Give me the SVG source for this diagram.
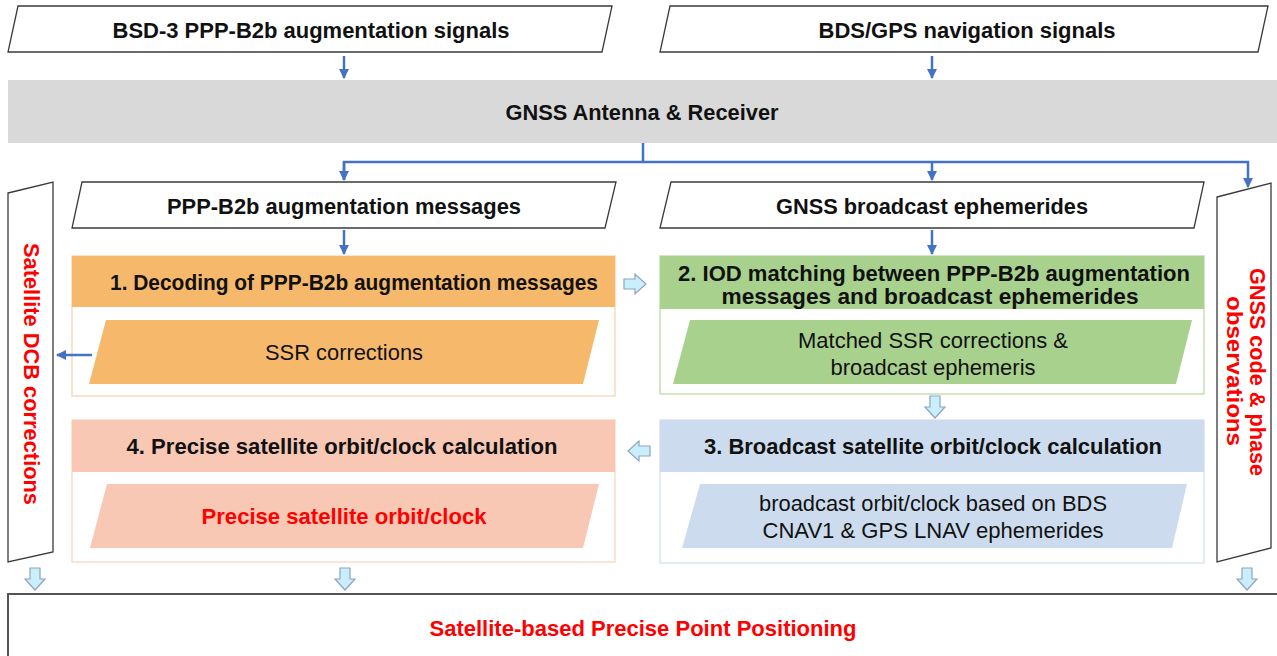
<svg xmlns="http://www.w3.org/2000/svg" width="1277" height="656" viewBox="0 0 1277 656">
  <style>
    .io { fill: #ffffff; stroke: #3a3a3a; stroke-width: 1.3; }
    .hd { font-family: "Liberation Sans", Arial, sans-serif; font-weight: bold; font-size: 22px; fill: #111; text-anchor: middle; dominant-baseline: central; }
    .tx { font-family: "Liberation Sans", Arial, sans-serif; font-size: 22px; fill: #111; text-anchor: middle; dominant-baseline: central; }
    .red { fill: #ff0000; }
    .flow { fill: none; stroke: #4472c4; stroke-width: 2.5; }
    .blk { fill: #c9effc; stroke: #8fa3bf; stroke-width: 1.2; }
  </style>
  <defs>
    <marker id="tip" viewBox="0 0 10 10" refX="9" refY="5" markerWidth="4" markerHeight="4" orient="auto" markerUnits="strokeWidth">
      <path d="M0,0 L10,5 L0,10 Z" fill="#4472c4"/>
    </marker>
    <!-- block arrow pointing down, origin at top centre -->
    <path id="blkDown" class="blk" d="M-5,0 H5 V11 H10 L0,22 L-10,11 H-5 Z"/>
  </defs>

  <rect width="1277" height="656" fill="#ffffff"/>

  <!-- input signals -->
  <g id="b2b-signals">
    <polygon class="io" points="18,6 612,6 602,52 8,52"/>
    <text class="hd" x="311" y="30" textLength="397" lengthAdjust="spacingAndGlyphs">BSD-3 PPP-B2b augmentation signals</text>
  </g>
  <g id="nav-signals">
    <polygon class="io" points="670,6 1268,6 1258,52 660,52"/>
    <text class="hd" x="967" y="30" textLength="297" lengthAdjust="spacingAndGlyphs">BDS/GPS navigation signals</text>
  </g>

  <!-- receiver -->
  <g id="receiver">
    <rect x="8" y="80" width="1269" height="63" fill="#d9d9d9"/>
    <text class="hd" x="642" y="112" textLength="273" lengthAdjust="spacingAndGlyphs">GNSS Antenna &amp; Receiver</text>
  </g>

  <!-- decoded data streams -->
  <g id="b2b-messages">
    <polygon class="io" points="82,182 616,182 605,228 72,228"/>
    <text class="hd" x="344" y="206" textLength="354" lengthAdjust="spacingAndGlyphs">PPP-B2b augmentation messages</text>
  </g>
  <g id="broadcast-ephemerides">
    <polygon class="io" points="671,182 1204,182 1194,228 660,228"/>
    <text class="hd" x="932" y="206" textLength="312" lengthAdjust="spacingAndGlyphs">GNSS broadcast ephemerides</text>
  </g>

  <!-- side streams -->
  <g id="dcb">
    <polygon class="io" points="8,193 53,182 53,552 8,562"/>
    <text class="hd red" transform="translate(31,374) rotate(90)" textLength="262" lengthAdjust="spacingAndGlyphs">Satellite DCB corrections</text>
  </g>
  <g id="observations">
    <polygon class="io" points="1217,197 1271,183 1271,548 1217,562"/>
    <text class="hd red" transform="translate(1257,372) rotate(90)" textLength="208" lengthAdjust="spacingAndGlyphs">GNSS code &amp; phase</text>
    <text class="hd red" transform="translate(1234,371) rotate(90)" textLength="150" lengthAdjust="spacingAndGlyphs">observations</text>
  </g>

  <!-- step 1 -->
  <g id="step1">
    <rect x="72" y="256" width="543" height="140" fill="#ffffff" stroke="#fbd9b8" stroke-width="1.5"/>
    <rect x="72" y="256" width="543" height="51" fill="#f6b96c"/>
    <text class="hd" x="354" y="282" textLength="488" lengthAdjust="spacingAndGlyphs">1. Decoding of PPP-B2b augmentation messages</text>
    <polygon points="106,320 599,320 583,384 89,384" fill="#f6b96c"/>
    <text class="tx" x="344" y="352" textLength="158" lengthAdjust="spacingAndGlyphs">SSR corrections</text>
  </g>

  <!-- step 2 -->
  <g id="step2">
    <rect x="660" y="256" width="544" height="138" fill="#ffffff" stroke="#c5e0b4" stroke-width="1.5"/>
    <rect x="660" y="256" width="544" height="53" fill="#a9d18e"/>
    <text class="hd" x="934" y="273" textLength="512" lengthAdjust="spacingAndGlyphs">2. IOD matching between PPP-B2b augmentation</text>
    <text class="hd" x="930" y="296" textLength="417" lengthAdjust="spacingAndGlyphs">messages and broadcast ephemerides</text>
    <polygon points="690,320 1192,320 1176,384 673,384" fill="#a9d18e"/>
    <text class="tx" x="933" y="340" textLength="270" lengthAdjust="spacingAndGlyphs">Matched SSR corrections &amp;</text>
    <text class="tx" x="933" y="367" textLength="205" lengthAdjust="spacingAndGlyphs">broadcast ephemeris</text>
  </g>

  <!-- step 3 -->
  <g id="step3">
    <rect x="660" y="420" width="544" height="143" fill="#ffffff" stroke="#dae3f3" stroke-width="1.5"/>
    <rect x="660" y="420" width="544" height="52" fill="#ccdcee"/>
    <text class="hd" x="933" y="446" textLength="458" lengthAdjust="spacingAndGlyphs">3. Broadcast satellite orbit/clock calculation</text>
    <polygon points="700,484 1187,484 1172,548 682,548" fill="#ccdcee"/>
    <text class="tx" x="933" y="503" textLength="348" lengthAdjust="spacingAndGlyphs">broadcast orbit/clock based on BDS</text>
    <text class="tx" x="933" y="530" textLength="341" lengthAdjust="spacingAndGlyphs">CNAV1 &amp; GPS LNAV ephemerides</text>
  </g>

  <!-- step 4 -->
  <g id="step4">
    <rect x="72" y="420" width="543" height="142" fill="#ffffff" stroke="#fbdccd" stroke-width="1.5"/>
    <rect x="72" y="420" width="543" height="52" fill="#f8c8b4"/>
    <text class="hd" x="342" y="446" textLength="431" lengthAdjust="spacingAndGlyphs">4. Precise satellite orbit/clock calculation</text>
    <polygon points="107,484 599,484 583,548 90,548" fill="#f8c8b4"/>
    <text class="hd red" x="344" y="516" textLength="285" lengthAdjust="spacingAndGlyphs">Precise satellite orbit/clock</text>
  </g>

  <!-- positioning result -->
  <g id="ppp">
    <rect x="8" y="594" width="1280" height="70" fill="#ffffff" stroke="#555" stroke-width="2"/>
    <text class="hd red" x="643" y="628" textLength="427" lengthAdjust="spacingAndGlyphs">Satellite-based Precise Point Positioning</text>
  </g>

  <!-- connectors -->
  <g id="connectors">
    <line class="flow" x1="344" y1="56" x2="344" y2="78" marker-end="url(#tip)"/>
    <line class="flow" x1="932" y1="56" x2="932" y2="78" marker-end="url(#tip)"/>
    <polyline class="flow" points="643,143 643,162"/>
    <polyline class="flow" points="344,180 344,162 1248,162 1248,187" marker-end="url(#tip)"/>
    <line class="flow" x1="344" y1="162" x2="344" y2="180" marker-end="url(#tip)"/>
    <line class="flow" x1="932" y1="162" x2="932" y2="180" marker-end="url(#tip)"/>
    <line class="flow" x1="344" y1="230" x2="344" y2="254" marker-end="url(#tip)"/>
    <line class="flow" x1="932" y1="230" x2="932" y2="254" marker-end="url(#tip)"/>
    <line class="flow" x1="92" y1="355" x2="57" y2="355" marker-end="url(#tip)"/>

    <use href="#blkDown" transform="translate(624,284) rotate(-90)"/>
    <use href="#blkDown" transform="translate(935,396)"/>
    <use href="#blkDown" transform="translate(650,451) rotate(90)"/>
    <use href="#blkDown" transform="translate(35,568)"/>
    <use href="#blkDown" transform="translate(345,568)"/>
    <use href="#blkDown" transform="translate(1247,568)"/>
  </g>
</svg>
